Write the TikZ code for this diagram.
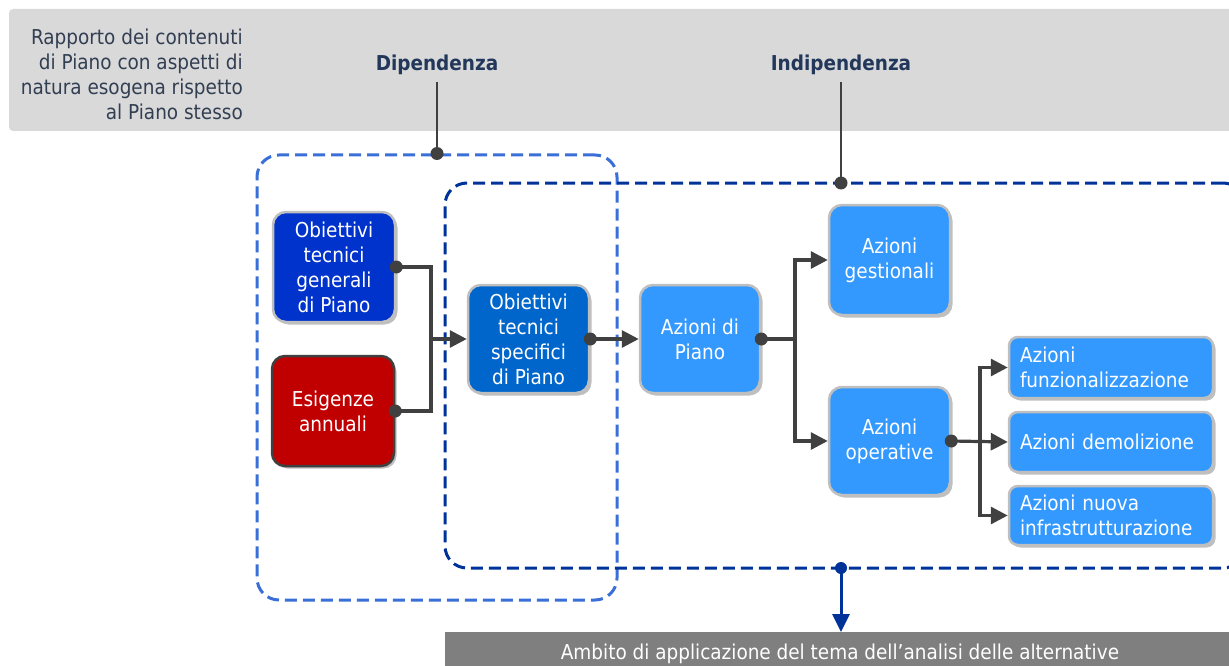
\documentclass[tikz,border=0pt]{standalone}
\usepackage{fontspec}
\setmainfont{DejaVu Sans Condensed}
\usetikzlibrary{arrows.meta,shadows}
\definecolor{bannergray}{HTML}{D9D9D9}
\definecolor{bargray}{HTML}{7F7F7F}
\definecolor{textslate}{HTML}{323E52}
\definecolor{headnavy}{HTML}{22375A}
\definecolor{dashlight}{HTML}{3A6FD8}
\definecolor{dashdark}{HTML}{003399}
\definecolor{conndark}{HTML}{404040}
\definecolor{rimgray}{HTML}{BFBFBF}
\definecolor{royal}{HTML}{0033CC}
\definecolor{darkred}{HTML}{C00000}
\definecolor{midblue}{HTML}{0066CC}
\definecolor{skyblue}{HTML}{3399FF}
\tikzset{
  txt/.style={font=\fontsize{20.5}{25}\selectfont},
  card/.style={txt, rounded corners=13pt, draw=rimgray, line width=2.5pt,
    text=white, align=center, inner sep=0pt,
    drop shadow={shadow xshift=2.5pt, shadow yshift=-2.5pt, fill=black, opacity=0.25}},
  wide/.style={card, minimum width=204pt, text width=182pt, align=left, rounded corners=9pt},
  conn/.style={draw=conndark, line width=3.2pt},
  arr/.style={conn, -{Triangle[length=17pt,width=17pt]}},
  knob/.style={circle, fill=conndark, inner sep=0pt, minimum size=13pt},
  zone/.style={dashed, dash pattern=on 12pt off 6pt, line width=3pt, rounded corners=22pt, inner sep=0pt},
}
\begin{document}
\begin{tikzpicture}[x=1pt,y=-1pt]
\useasboundingbox (0,0) rectangle (1229,666);

% top banner
\fill[bannergray, rounded corners=4pt] (9,9) rectangle (1250,131);
\node[txt, text=textslate, align=right, anchor=north east, inner sep=0pt] (rapporto) at (243,29)
  {Rapporto dei contenuti\\di Piano con aspetti di\\natura esogena rispetto\\al Piano stesso};
\node[txt, text=headnavy, font=\fontsize{20.5}{25}\selectfont\bfseries] (dip) at (437,65) {Dipendenza};
\node[txt, text=headnavy, font=\fontsize{20.5}{25}\selectfont\bfseries] (indip) at (841,65) {Indipendenza};

% dashed scopes
\node[zone, draw=dashlight, minimum width=360pt, minimum height=445pt] (dep) at (437,377.5) {};
\node[zone, draw=dashdark, minimum width=800pt, minimum height=385pt] (ind) at (845,375.5) {};
\coordinate (indtop) at (841,183);
\coordinate (indbot) at (841,568);

\draw[conn, line width=2.2pt] (437,82) -- (dep.north);
\node[knob] (dipdot) at (dep.north) {};
\draw[conn, line width=2.2pt] (841,82) -- (indtop);
\node[knob] (indipdot) at (indtop) {};

% boxes
\node[card, fill=royal, minimum width=122pt, minimum height=110pt] (otg) at (334,267)
  {Obiettivi\\tecnici\\generali\\di Piano};
\node[card, fill=darkred, draw=conndark, minimum width=122pt, minimum height=110pt] (esg) at (333,411)
  {Esigenze\\annuali};
\node[card, fill=midblue, minimum width=121pt, minimum height=108pt] (ots) at (528.5,339)
  {Obiettivi\\tecnici\\specifici\\di Piano};
\node[card, fill=skyblue, minimum width=120pt, minimum height=108pt] (adp) at (700,339)
  {Azioni di\\Piano};
\node[card, fill=skyblue, minimum width=121pt, minimum height=110pt] (ag) at (889.5,260)
  {Azioni\\gestionali};
\node[card, fill=skyblue, minimum width=121pt, minimum height=108pt] (ao) at (889.5,441)
  {Azioni\\operative};
\node[wide, fill=skyblue, minimum height=61pt] (af) at (1111,367.5)
  {Azioni\\funzionalizzazione};
\node[wide, fill=skyblue, minimum height=60pt] (ad) at (1111,442)
  {Azioni demolizione};
\node[wide, fill=skyblue, minimum height=59pt] (ani) at (1111,515.5)
  {Azioni nuova\\infrastrutturazione};

% connectors
\coordinate (j1) at (431,339);
\coordinate (j2) at (795,339);
\coordinate (j3) at (980,441);
\draw[conn] (otg.east) -| (j1);
\draw[conn] (esg.east) -| (j1);
\draw[arr] (j1) -- (ots.west);
\draw[arr] (ots.east) -- (adp.west);
\draw[conn] (adp.east) -- (j2);
\draw[arr] (j2) |- (ag.west);
\draw[arr] (j2) |- (ao.west);
\draw[arr] (ao.east) -- (ad.west);
\draw[arr] (j3) |- (af.west);
\draw[arr] (j3) |- (ani.west);
\foreach \n in {otg,esg,ots,adp,ao}{\node[knob] at (\n.east) {};}

% scope of the alternatives analysis
\node[fill=bargray, minimum width=800pt, minimum height=40pt, anchor=north west,
  inner sep=0pt] (bar) at (445,632) {};
\node[txt, text=white] (bartext) at (840,654) {Ambito di applicazione del tema dell’analisi delle alternative};
\node[circle, fill=dashdark, inner sep=0pt, minimum size=12pt] (botdot) at (indbot) {};
\draw[draw=dashdark, line width=3pt, -{Triangle[length=18pt,width=17pt]}] (botdot.center) -- (841,632);
\end{tikzpicture}
\end{document}
